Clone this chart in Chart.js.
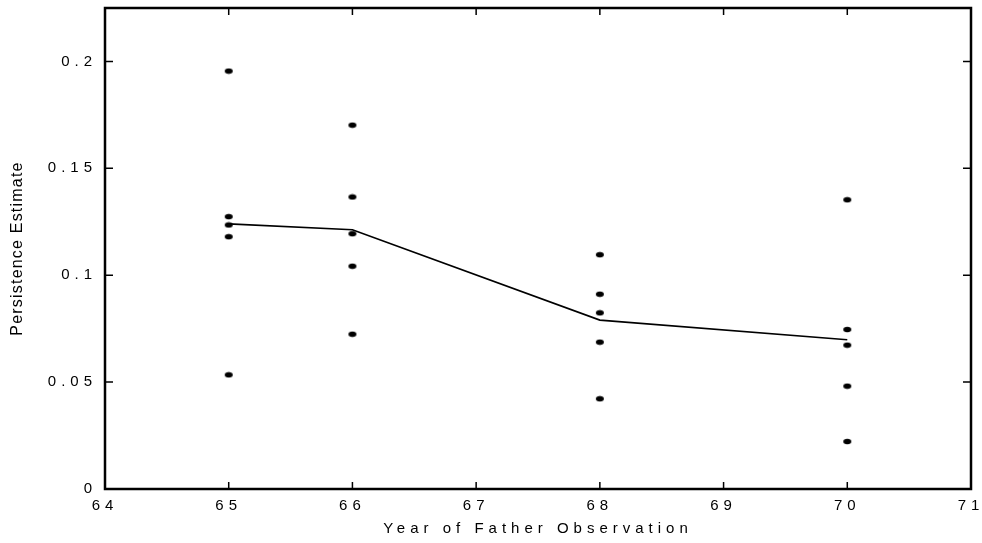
<!DOCTYPE html>
<html>
<head>
<meta charset="utf-8">
<script src="https://cdn.jsdelivr.net/npm/chart.js@4"></script>
<style>
  html, body { margin: 0; padding: 0; background: #fff; }
  #wrap { width: 982px; height: 543px; }
</style>
</head>
<body>
<div id="wrap"><canvas id="c" width="982" height="543"></canvas></div>
<script>
// ---- data ----
const years = [65, 66, 68, 70];
const persist65 = [0.1955, 0.1274, 0.1235, 0.1180, 0.0534];
const persist66 = [0.1702, 0.1366, 0.1194, 0.1042, 0.0724];
const persist68 = [0.1096, 0.0911, 0.0824, 0.0687, 0.0422];
const persist70 = [0.1353, 0.0746, 0.0673, 0.0481, 0.0222];
const meanLine = [0.1240, 0.1213, 0.0790, 0.0698];
const xTitle = 'Year of Father Observation';
const yTitle = 'Persistence Estimate';

const groups = [persist65, persist66, persist68, persist70];
const scatterPts = [];
groups.forEach((g, i) => g.forEach(v => scatterPts.push({x: years[i], y: v})));
const linePts = years.map((y, i) => ({x: y, y: meanLine[i]}));

// ellipse point marker
const dot = document.createElement('canvas');
dot.width = 10; dot.height = 7;
(function(){
  const c = dot.getContext('2d');
  c.fillStyle = '#000';
  c.beginPath();
  c.ellipse(5, 3.5, 4, 2.7, 0, 0, Math.PI * 2);
  c.fill();
})();

const PLOT = {left: 105, right: 971, top: 8, bottom: 489};

function noPad(s) { s.paddingLeft = 0; s.paddingRight = 0; s.paddingTop = 0; s.paddingBottom = 0; }

const framePlugin = {
  id: 'frame',
  beforeDraw(chart) {
    ['x', 'y'].forEach(id => {
      const s = chart.scales[id];
      if (s._patched) return;
      s._patched = true;
      const origLabels = s.drawLabels.bind(s);
      s.drawLabels = function(area) {
        const ctx = this.ctx; ctx.save(); ctx.letterSpacing = '5px'; origLabels(area); ctx.restore();
      };
      const origTitle = s.drawTitle.bind(s);
      s.drawTitle = function() {
        const ctx = this.ctx; ctx.save(); ctx.letterSpacing = (id === 'x') ? '5px' : '1.2px'; origTitle(); ctx.restore();
      };
    });
  },
  afterDatasetsDraw(chart) {
    const ctx = chart.ctx;
    const a = chart.chartArea;
    const xs = chart.scales.x, ys = chart.scales.y;
    ctx.save();
    ctx.strokeStyle = '#000';
    ctx.lineWidth = 1.5;
    ctx.beginPath();
    xs.ticks.forEach(t => {
      const px = xs.getPixelForValue(t.value);
      if (px <= a.left + 1 || px >= a.right - 1) return;
      ctx.moveTo(px, a.bottom); ctx.lineTo(px, a.bottom - 7);
      ctx.moveTo(px, a.top); ctx.lineTo(px, a.top + 7);
    });
    ys.ticks.forEach(t => {
      const py = ys.getPixelForValue(t.value);
      if (py >= a.bottom - 1 || py <= a.top + 1) return;
      ctx.moveTo(a.left, py); ctx.lineTo(a.left + 8, py);
      ctx.moveTo(a.right, py); ctx.lineTo(a.right - 8, py);
    });
    ctx.stroke();
    ctx.lineWidth = 2.5;
    ctx.strokeRect(a.left, a.top, a.right - a.left, a.bottom - a.top);
    ctx.restore();
  }
};

new Chart(document.getElementById('c'), {
  type: 'scatter',
  data: {
    datasets: [
      {
        type: 'line',
        data: linePts,
        borderColor: '#000',
        borderWidth: 1.6,
        pointRadius: 0,
        fill: false,
        tension: 0
      },
      {
        type: 'scatter',
        data: scatterPts,
        pointStyle: dot,
        pointRadius: 4,
        backgroundColor: '#000',
        borderColor: '#000'
      }
    ]
  },
  options: {
    responsive: false,
    animation: false,
    devicePixelRatio: 1,
    layout: { padding: { left: 0, top: PLOT.top, right: 982 - PLOT.right, bottom: 0 } },
    plugins: { legend: { display: false }, tooltip: { enabled: false } },
    scales: {
      x: {
        type: 'linear',
        min: 64, max: 71,
        afterFit(s) { s.height = 543 - PLOT.bottom; noPad(s); },
        grid: { display: false, drawTicks: false },
        border: { display: false },
        ticks: {
          stepSize: 1,
          padding: 8,
          color: '#000',
          font: { family: 'Liberation Sans, Arial, sans-serif', size: 15 },
          callback: v => String(v)
        },
        title: {
          display: true,
          text: xTitle,
          color: '#000',
          font: { family: 'Liberation Sans, Arial, sans-serif', size: 15 },
          padding: { top: 0, bottom: 5 }
        }
      },
      y: {
        type: 'linear',
        min: 0, max: 0.225,
        afterFit(s) { s.width = PLOT.left; noPad(s); },
        grid: { display: false, drawTicks: false },
        border: { display: false },
        ticks: {
          stepSize: 0.05,
          includeBounds: false,
          padding: 8,
          color: '#000',
          font: { family: 'Liberation Sans, Arial, sans-serif', size: 15 },
          callback: v => String(Number(v.toFixed(3)))
        },
        title: {
          display: true,
          text: yTitle,
          color: '#000',
          font: { family: 'Liberation Sans, Arial, sans-serif', size: 16 },
          padding: { top: 8, bottom: 0 }
        }
      }
    }
  },
  plugins: [framePlugin]
});
</script>
</body>
</html>
